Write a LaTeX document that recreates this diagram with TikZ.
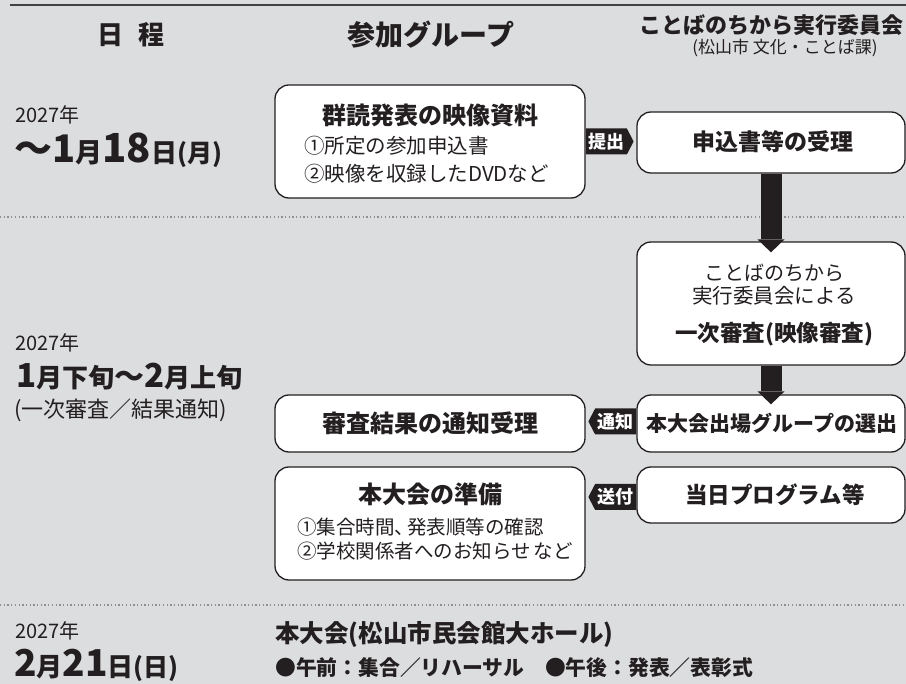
\documentclass[tikz,border=0pt]{standalone}
\usepackage{fontspec}
\setmainfont{Noto Sans CJK JP}
\usetikzlibrary{arrows.meta,shapes.symbols,calc}
\definecolor{bg}{HTML}{DCDDDF}
\definecolor{ink}{HTML}{231F20}
\definecolor{dotc}{HTML}{8E8E90}
\newcommand\jfs[1]{\fontsize{#1}{#1}\selectfont}
\tikzset{
  box/.style={draw=ink, line width=1.3pt, fill=white, rounded corners=14pt, inner sep=0pt},
  txt/.style={inner sep=0pt, text=ink},
  bartip/.style={draw=ink, line width=21pt, -{Triangle[width=27pt,length=13pt,line width=0pt]}},
  tagbox/.style={shape=signal, fill=ink, text=white, font=\bfseries\jfs{18}, inner xsep=2.5pt, inner ysep=0pt, minimum height=26pt, signal pointer angle=125},
  dotline/.style={draw=dotc, line width=1.3pt, dash pattern=on 1.3pt off 2.4pt},
}
\begin{document}
\begin{tikzpicture}[x=1pt,y=-1pt]
\fill[bg] (0,0) rectangle (906,684);
\useasboundingbox (0,0) rectangle (906,684);
% top rule
\draw[ink!85, line width=2pt] (10,5) -- (906,5);
% dotted separators
\draw[dotline] (0,217) -- (906,217);
\draw[dotline] (0,605) -- (906,605);
% header
\node[txt, font=\bfseries\jfs{26}] (h1) at (131,35) {日\hspace{16pt}程};
\node[txt, font=\bfseries\jfs{28}] (h2) at (431,35) {参加グループ};
\node[txt, font=\bfseries\jfs{22}] (h3) at (771,25) {ことばのちから実行委員会};
\node[txt, font=\jfs{17}] (h4) at (785,48) {(松山市 文化・ことば課)};
% dates
\node[txt, anchor=west, font=\jfs{20}] (d1y) at (15,115) {2027年};
\node[txt, anchor=base west, font=\bfseries] (d1) at (14,163) {\jfs{38}〜1\jfs{27}月\jfs{40}18\jfs{26}日\jfs{25}(月)};
\node[txt, anchor=west, font=\jfs{20}] (d2y) at (15,343) {2027年};
\node[txt, anchor=base west, font=\bfseries] (d2) at (16,388) {\jfs{33}1\jfs{26}月下旬\jfs{30}〜\jfs{33}2\jfs{26}月上旬};
\node[txt, anchor=west, font=\jfs{22}] (d2n) at (14,410) {(一次審査／結果通知)};
\node[txt, anchor=west, font=\jfs{20}] (d3y) at (15,631) {2027年};
\node[txt, anchor=base west, font=\bfseries] (d3) at (14,677) {\jfs{37}2\jfs{26}月\jfs{37}21\jfs{26}日\jfs{25}(日)};
% final event
\node[txt, anchor=west, font=\bfseries\jfs{24.5}] (ev) at (275,634) {本大会(松山市民会館大ホール)};
\node[txt, anchor=west, font=\bfseries\jfs{20.8}] (ev2) at (275,668) {●午前：集合／リハーサル　●午後：発表／表彰式};
% boxes
\node[box, minimum width=310pt, minimum height=113pt] (b1) at (430,141.5) {};
\node[box, minimum width=268pt, minimum height=61pt] (b2) at (771,142.5) {};
\node[box, minimum width=268pt, minimum height=123pt] (b3) at (771,303.5) {};
\node[box, minimum width=310pt, minimum height=57pt] (b4) at (430,423.5) {};
\node[box, minimum width=268pt, minimum height=57pt] (b5) at (771,423.5) {};
\node[box, minimum width=310pt, minimum height=113pt] (b6) at (430,523.5) {};
\node[box, minimum width=268pt, minimum height=56pt] (b7) at (771,495) {};
% box texts
\node[txt, font=\bfseries\jfs{24}] (b1t) at (430,115) {群読発表の映像資料};
\node[txt, anchor=west, font=\jfs{20.5}] (b1a) at (304,146) {①所定の参加申込書};
\node[txt, anchor=west, font=\jfs{20.5}] (b1b) at (304,174) {②映像を収録したDVDなど};
\node[txt, font=\bfseries\jfs{23}] (b2t) at (773,142) {申込書等の受理};
\node[txt, font=\jfs{20}] (b3a) at (774,273) {ことばのちから};
\node[txt, font=\jfs{20.5}] (b3b) at (774,296) {実行委員会による};
\node[txt, font=\bfseries\jfs{22.5}] (b3c) at (774,334) {一次審査(映像審査)};
\node[txt, font=\bfseries\jfs{24}] (b4t) at (430,423) {審査結果の通知受理};
\node[txt, font=\bfseries\jfs{21}] (b5t) at (772,423) {本大会出場グループの選出};
\node[txt, font=\bfseries\jfs{24}] (b6t) at (430,494) {本大会の準備};
\node[txt, anchor=west, font=\jfs{19.5}] (b6a) at (297,527) {①集合時間、\kern-7pt 発表順等の確認};
\node[txt, anchor=west, font=\jfs{19.5}] (b6b) at (297,551) {②学校関係者へのお知らせ\hspace{3pt}など};
\node[txt, font=\bfseries\jfs{22.5}] (b7t) at (775,495) {当日プログラム等};
% tags
\node[tagbox, signal to=east, anchor=west] (t1) at ($(b1.east)+(0,0)$) {提出};
\node[tagbox, signal to=west, anchor=east] (t2) at ($(b5.west)+(0,-2)$) {通知};
\node[tagbox, signal to=west, anchor=east] (t3) at ($(b7.west)+(0,2)$) {送付};
% vertical arrows
\draw[bartip] (b2.south) -- ($(b3.north)+(0,11)$);
\draw[bartip] (b3.south) -- ($(b5.north)+(0,10)$);
\end{tikzpicture}
\end{document}
